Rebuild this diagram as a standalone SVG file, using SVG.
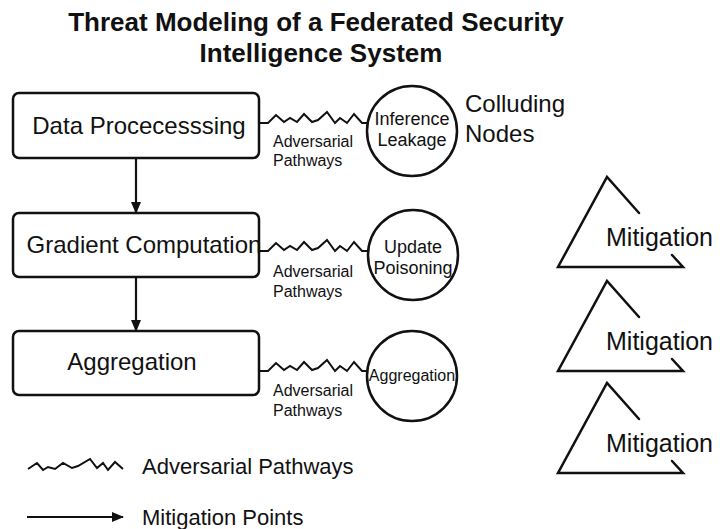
<svg xmlns="http://www.w3.org/2000/svg" xmlns:xlink="http://www.w3.org/1999/xlink" width="720" height="529" viewBox="0 0 720 529">
<style>
text{font-family:"Liberation Sans",Arial,sans-serif;fill:#111}
.title{font-size:26px;font-weight:bold;text-anchor:middle}
.box{fill:#fff;stroke:#111;stroke-width:2.5}
.bt{font-size:24px;text-anchor:middle}
.circ{fill:#fff;stroke:#111;stroke-width:2.5}
.ct{font-size:18px;text-anchor:middle}
.lab{font-size:16px}
.zig{fill:none;stroke:#111;stroke-width:2;stroke-linejoin:miter}
.arr{stroke:#111;stroke-width:2.2;fill:none}
.tri{fill:none;stroke:#111;stroke-width:2.5;stroke-linecap:round}
.mt{font-size:25px}
.leg{font-size:22px}
</style>
<defs>
<marker id="ah" markerUnits="userSpaceOnUse" markerWidth="12" markerHeight="10" refX="11" refY="5" orient="auto">
<path d="M0,0 L12,5 L0,10 z" fill="#111"/>
</marker>
<path id="zigp" d="M0,0 H9 L17,-8 L25,-1 L31,-5 L38,-1 L45,-9 L53,-1 L59,-3 L68,-11 L76,0 L81,-5 L88,0 L95,-9 L103,0 L109,0"/>
</defs>
<rect width="720" height="529" fill="#fff"/>
<g id="title">
<text class="title" x="316" y="31">Threat Modeling of a Federated Security</text>
<text class="title" x="321" y="62">Intelligence System</text>
</g>
<g id="connectors">
<line class="arr" x1="136" y1="158" x2="136" y2="213" marker-end="url(#ah)"/>
<line class="arr" x1="136" y1="277" x2="136" y2="331" marker-end="url(#ah)"/>
<use href="#zigp" class="zig" transform="translate(259,123)"/>
<use href="#zigp" class="zig" transform="translate(259,251)"/>
<use href="#zigp" class="zig" transform="translate(259,371)"/>
<text class="lab" x="273" y="147">Adversarial</text>
<text class="lab" x="273" y="166">Pathways</text>
<text class="lab" x="273" y="277">Adversarial</text>
<text class="lab" x="273" y="297">Pathways</text>
<text class="lab" x="273" y="396">Adversarial</text>
<text class="lab" x="273" y="416">Pathways</text>
</g>
<g id="data-processing">
<rect class="box" x="13" y="93" width="246" height="65" rx="6"/>
<text class="bt" x="139" y="134">Data Procecesssing</text>
</g>
<g id="gradient-computation">
<rect class="box" x="13" y="213" width="246" height="64" rx="6"/>
<text class="bt" x="144" y="253">Gradient Computation</text>
</g>
<g id="aggregation">
<rect class="box" x="13" y="331" width="246" height="64" rx="6"/>
<text class="bt" x="132" y="370">Aggregation</text>
</g>
<g id="inference-leakage">
<circle class="circ" cx="412" cy="131" r="45"/>
<text class="ct" x="412" y="125">Inference</text>
<text class="ct" x="412" y="146">Leakage</text>
</g>
<g id="colluding-nodes">
<text style="font-size:24px" x="465" y="112">Colluding</text>
<text style="font-size:24px" x="465" y="142">Nodes</text>
</g>
<g id="update-poisoning">
<circle class="circ" cx="413" cy="255" r="45"/>
<text class="ct" x="413" y="253">Update</text>
<text class="ct" x="413" y="274">Poisoning</text>
</g>
<g id="aggregation-threat">
<circle class="circ" cx="412" cy="376" r="45"/>
<text class="ct" style="font-size:16px" x="412" y="381">Aggregation</text>
</g>
<g id="mitigation-1">
<path class="tri" d="M639,213 L607,177 L558,267 L683,267 L672,255"/>
<text class="mt" x="606" y="246">Mitigation</text>
</g>
<g id="mitigation-2">
<path class="tri" d="M639,317 L607,281 L558,371 L683,371 L672,359"/>
<text class="mt" x="606" y="350">Mitigation</text>
</g>
<g id="mitigation-3">
<path class="tri" d="M639,419 L607,383 L558,473 L683,473 L672,461"/>
<text class="mt" x="606" y="452">Mitigation</text>
</g>
<g id="legend">
<path class="zig" d="M28,469 L37,463 L43,470 L48,467 L55,469 L63,463 L72,468 L78,466 L90,459 L97,468 L103,463 L108,470 L115,462 L123,469"/>
<text class="leg" x="142" y="474">Adversarial Pathways</text>
<line class="arr" x1="27" y1="517" x2="123" y2="517" marker-end="url(#ah)"/>
<text class="leg" x="142" y="525">Mitigation Points</text>
</g>
</svg>
